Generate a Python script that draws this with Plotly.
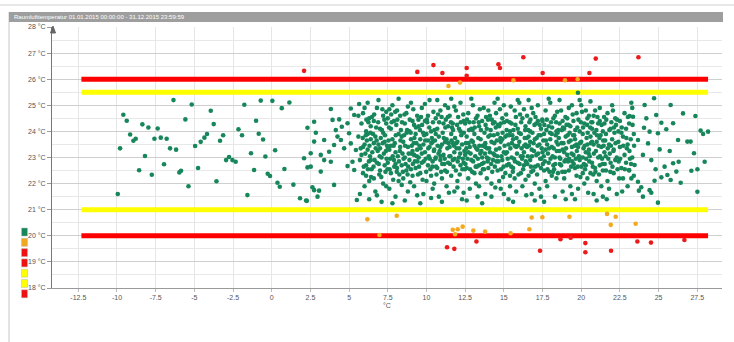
import plotly.graph_objects as go

# ---------------- data ----------------
title_text = "Raumlufttemperatur 01.01.2015 00:00:00 - 31.12.2015 23:59:59"

x_tick_vals = [-12.5, -10, -7.5, -5, -2.5, 0, 2.5, 5, 7.5, 10, 12.5, 15, 17.5, 20, 22.5, 25, 27.5]
x_tick_text = ["-12.5", "-10", "-7.5", "-5", "-2.5", "0", "2.5", "5", "7.5", "10", "12.5", "15",
               "17.5", "20", "22.5", "25", "27.5"]
y_tick_vals = [18, 19, 20, 21, 22, 23, 24, 25, 26, 27, 28]
y_tick_text = [f"{v} °C" for v in y_tick_vals]

limit_x = [-12.3, 28.2]
red_limits = [26.0, 20.0]
yellow_limits = [25.5, 21.0]

green_sparse_pts = [
    (-6.35, 25.20), (-5.17, 25.03), (-1.77, 25.02), (-0.71, 25.18), (0.04, 25.17), (1.14, 25.11),
    (0.65, 24.89), (-3.94, 24.79), (-9.59, 24.64), (-9.37, 24.41), (-5.58, 24.46), (-1.01, 24.41),
    (-3.75, 24.28), (-8.36, 24.27), (-7.97, 24.15), (-7.37, 24.11), (-9.15, 23.88), (-8.79, 23.72),
    (-8.94, 23.64), (-7.58, 23.72), (-7.17, 23.76), (-6.79, 23.72), (-4.18, 23.90), (-4.35, 23.76),
    (-3.14, 23.85), (-3.34, 23.64), (-2.15, 24.08), (-1.92, 23.85), (-0.84, 23.91), (-0.56, 23.69),
    (-4.59, 23.60), (-4.95, 23.44), (-9.80, 23.35), (-6.57, 23.35), (-6.18, 23.30), (0.22, 23.28),
    (-8.19, 23.06), (-1.34, 23.16), (-0.41, 23.04), (-2.76, 23.02), (-2.95, 22.90), (-2.54, 22.90),
    (-2.33, 22.84), (-6.96, 22.74), (-8.57, 22.51), (-7.75, 22.34), (-5.86, 22.49), (-5.97, 22.43),
    (-4.76, 22.60), (-1.14, 22.52), (0.82, 22.56), (-0.26, 22.38), (-0.11, 22.29), (-3.57, 22.09),
    (0.37, 22.03), (0.52, 21.88), (-5.38, 21.90), (-9.95, 21.60), (-1.57, 21.56), (1.40, 21.96),
    (1.83, 21.44), (2.22, 21.35),
    (3.82, 24.86), (2.74, 24.37), (2.31, 24.14), (2.85, 23.95), (2.74, 23.61), (3.39, 23.67),
    (3.93, 24.44), (4.36, 24.46), (4.14, 24.05), (4.90, 24.31), (5.00, 23.93), (4.47, 23.67),
    (4.68, 23.35), (4.03, 23.48), (3.71, 23.22), (3.17, 23.10), (3.39, 22.90), (2.52, 23.16),
    (2.31, 22.62), (2.52, 22.65), (3.17, 22.46), (3.82, 22.84), (5.22, 22.84), (5.33, 22.52),
    (4.90, 22.67), (2.63, 21.86), (2.74, 21.75), (3.06, 21.73), (2.96, 21.50), (4.03, 21.95),
    (2.27, 21.34), (5.50, 21.37), (5.11, 24.88), (5.33, 24.63), (5.65, 25.05), (2.09, 22.97),
    (4.53, 24.18), (4.25, 23.80), (5.11, 23.54), (5.44, 23.29),
]

green_dense_pts = [
    (5.6, 23.8), (5.7, 22.9), (5.8, 24.3), (5.8, 23.1), (5.9, 22.4), (5.9, 24.7), (6.0, 23.5), (6.0, 21.9),
    (6.1, 24.0), (6.1, 22.7), (6.2, 23.3), (6.2, 25.1), (6.3, 22.1), (6.3, 24.5), (6.4, 23.7), (6.4, 22.9),
    (5.7, 21.6), (5.9, 23.4), (6.0, 24.9), (6.2, 23.9), (6.3, 21.4), (6.4, 24.2), (6.1, 22.3), (5.6, 24.6),
    (6.35, 23.05), (5.95, 22.65), (6.15, 23.65), (6.45, 22.55), (5.75, 23.35), (6.25, 24.35),
    (6.5, 23.2), (6.6, 24.4), (6.6, 22.2), (6.7, 23.8), (6.7, 21.7), (6.8, 24.9), (6.8, 22.8), (6.9, 23.5),
    (6.9, 25.2), (7.0, 22.5), (7.0, 24.1), (7.1, 23.0), (7.1, 21.3), (7.2, 24.6), (7.2, 22.0), (7.3, 23.6),
    (7.3, 22.7), (7.4, 24.3), (7.4, 21.9), (6.55, 23.9), (6.65, 22.9), (6.75, 24.15), (6.85, 23.25),
    (6.95, 22.35), (7.05, 23.75), (7.15, 24.85), (7.25, 23.15), (7.35, 22.45), (7.45, 23.45), (6.6, 23.55),
    (7.0, 23.35), (7.2, 23.95), (6.8, 21.55), (7.4, 24.75),
    (7.5, 22.8), (7.5, 24.5), (7.6, 23.3), (7.6, 21.8), (7.7, 24.1), (7.7, 22.4), (7.8, 23.7), (7.8, 25.0),
    (7.9, 22.9), (7.9, 24.4), (8.0, 23.2), (8.0, 21.5), (8.1, 24.8), (8.1, 22.6), (8.2, 23.9), (8.2, 22.1),
    (8.3, 23.4), (8.3, 24.6), (8.4, 22.7), (8.4, 23.8), (7.55, 23.65), (7.65, 22.95), (7.75, 24.35),
    (7.85, 22.15), (7.95, 23.55), (8.05, 24.25), (8.15, 23.05), (8.25, 22.35), (8.35, 24.05), (8.45, 23.15),
    (7.7, 23.45), (8.0, 22.75), (8.2, 25.25), (7.8, 21.25), (8.4, 21.95), (7.6, 24.85),
    (8.5, 23.6), (8.5, 22.2), (8.6, 24.3), (8.6, 23.0), (8.7, 22.5), (8.7, 24.7), (8.8, 23.4), (8.8, 21.7),
    (8.9, 24.0), (8.9, 22.9), (9.0, 23.7), (9.0, 25.1), (9.1, 22.3), (9.1, 24.4), (9.2, 23.1), (9.2, 21.9),
    (9.3, 23.9), (9.3, 22.6), (9.4, 24.6), (9.4, 23.3), (8.55, 23.85), (8.65, 22.75), (8.75, 24.05),
    (8.85, 23.15), (8.95, 22.05), (9.05, 23.45), (9.15, 24.85), (9.25, 22.85), (9.35, 23.55), (9.45, 22.35),
    (8.6, 21.35), (9.0, 22.55), (9.2, 24.25), (8.8, 24.95), (9.4, 21.55), (9.1, 23.25),
    (9.5, 23.0), (9.5, 24.2), (9.6, 22.4), (9.6, 23.7), (9.7, 24.9), (9.7, 22.8), (9.8, 23.5), (9.8, 21.6),
    (9.9, 24.4), (9.9, 23.2), (10.0, 22.1), (10.0, 23.9), (10.1, 24.6), (10.1, 22.7), (10.2, 23.4),
    (10.2, 25.2), (10.3, 22.3), (10.3, 24.0), (10.4, 23.6), (10.4, 21.8), (9.55, 23.45), (9.65, 24.55),
    (9.75, 22.15), (9.85, 23.85), (9.95, 22.95), (10.05, 24.35), (10.15, 23.05), (10.25, 22.55),
    (10.35, 23.75), (10.45, 24.75), (9.6, 21.25), (9.9, 25.05), (10.1, 23.65), (10.3, 21.45), (9.7, 23.15),
    (10.4, 22.85),
    (10.5, 23.3), (10.5, 22.0), (10.6, 24.5), (10.6, 23.0), (10.7, 22.6), (10.7, 24.1), (10.8, 23.8),
    (10.8, 21.5), (10.9, 24.8), (10.9, 22.9), (11.0, 23.5), (11.0, 22.2), (11.1, 24.3), (11.1, 23.1),
    (11.2, 22.5), (11.2, 25.0), (11.3, 23.7), (11.3, 21.9), (11.4, 24.2), (11.4, 22.8), (10.55, 23.65),
    (10.65, 22.35), (10.75, 24.65), (10.85, 23.25), (10.95, 22.45), (11.05, 23.95), (11.15, 22.75),
    (11.25, 24.45), (11.35, 23.35), (11.45, 21.65), (10.7, 25.2), (11.0, 21.3), (11.2, 23.6), (10.9, 23.4),
    (11.4, 24.9), (10.6, 23.9),
    (11.5, 23.4), (11.5, 24.6), (11.6, 22.3), (11.6, 23.9), (11.7, 22.9), (11.7, 24.3), (11.8, 23.2),
    (11.8, 21.7), (11.9, 24.8), (11.9, 22.5), (12.0, 23.6), (12.0, 22.1), (12.1, 24.1), (12.1, 23.0),
    (12.2, 22.7), (12.2, 25.1), (12.3, 23.5), (12.3, 21.4), (12.4, 24.4), (12.4, 22.8), (11.55, 23.05),
    (11.65, 24.15), (11.75, 22.65), (11.85, 23.75), (11.95, 23.35), (12.05, 24.55), (12.15, 22.35),
    (12.25, 23.85), (12.35, 22.95), (12.45, 23.25), (11.6, 25.25), (12.0, 21.85), (12.2, 24.0),
    (11.8, 24.95), (12.4, 21.65), (11.7, 23.55),
    (12.5, 23.1), (12.5, 24.3), (12.6, 22.6), (12.6, 23.8), (12.7, 24.7), (12.7, 22.2), (12.8, 23.4),
    (12.8, 21.8), (12.9, 24.1), (12.9, 22.9), (13.0, 23.6), (13.0, 25.0), (13.1, 22.4), (13.1, 23.9),
    (13.2, 24.5), (13.2, 22.0), (13.3, 23.3), (13.3, 21.5), (13.4, 24.2), (13.4, 22.7), (12.55, 23.55),
    (12.65, 22.95), (12.75, 24.05), (12.85, 23.15), (12.95, 22.45), (13.05, 24.35), (13.15, 23.05),
    (13.25, 22.65), (13.35, 23.75), (13.45, 24.85), (12.6, 21.35), (12.9, 25.25), (13.1, 23.45),
    (13.3, 24.6), (12.7, 23.2), (13.4, 21.9),
    (13.5, 23.7), (13.5, 22.4), (13.6, 24.4), (13.6, 23.0), (13.7, 22.8), (13.7, 24.9), (13.8, 23.4),
    (13.8, 21.6), (13.9, 24.1), (13.9, 22.2), (14.0, 23.8), (14.0, 22.6), (14.1, 24.6), (14.1, 23.2),
    (14.2, 22.0), (14.2, 23.6), (14.3, 24.3), (14.3, 22.9), (14.4, 23.1), (14.4, 25.1), (13.55, 23.25),
    (13.65, 22.55), (13.75, 23.95), (13.85, 24.55), (13.95, 22.85), (14.05, 23.35), (14.15, 24.05),
    (14.25, 22.45), (14.35, 23.85), (14.45, 21.85), (13.6, 21.25), (14.0, 24.8), (14.2, 21.5),
    (13.8, 23.55), (14.4, 24.35), (13.9, 23.0),
    (14.5, 23.3), (14.5, 24.7), (14.6, 22.5), (14.6, 23.9), (14.7, 24.2), (14.7, 22.1), (14.8, 23.6),
    (14.8, 21.8), (14.9, 24.5), (14.9, 22.9), (15.0, 23.2), (15.0, 25.0), (15.1, 22.4), (15.1, 23.8),
    (15.2, 24.4), (15.2, 22.7), (15.3, 23.5), (15.3, 21.4), (15.4, 24.0), (15.4, 22.3), (14.55, 23.65),
    (14.65, 22.85), (14.75, 24.85), (14.85, 23.05), (14.95, 22.25), (15.05, 23.45), (15.15, 24.65),
    (15.25, 22.95), (15.35, 23.85), (15.45, 24.95), (14.6, 25.25), (15.0, 21.6), (15.2, 23.2),
    (14.8, 24.3), (15.4, 21.9), (14.9, 23.7),
    (15.5, 23.0), (15.5, 24.3), (15.6, 22.6), (15.6, 23.7), (15.7, 24.8), (15.7, 22.2), (15.8, 23.4),
    (15.8, 21.7), (15.9, 24.1), (15.9, 22.8), (16.0, 23.6), (16.0, 25.1), (16.1, 22.4), (16.1, 23.9),
    (16.2, 24.5), (16.2, 21.9), (16.3, 23.2), (16.3, 22.7), (16.4, 24.2), (16.4, 23.5), (15.55, 23.85),
    (15.65, 22.95), (15.75, 24.25), (15.85, 23.15), (15.95, 22.35), (16.05, 24.65), (16.15, 23.35),
    (16.25, 22.55), (16.35, 23.75), (16.45, 21.55), (15.6, 21.3), (15.9, 25.2), (16.1, 23.05),
    (16.3, 24.85), (15.7, 23.45), (16.4, 22.15),
    (16.5, 23.4), (16.5, 24.6), (16.6, 22.3), (16.6, 23.8), (16.7, 24.0), (16.7, 22.9), (16.8, 23.3),
    (16.8, 21.6), (16.9, 24.7), (16.9, 22.5), (17.0, 23.7), (17.0, 22.0), (17.1, 24.3), (17.1, 23.1),
    (17.2, 22.7), (17.2, 25.0), (17.3, 23.5), (17.3, 21.8), (17.4, 24.1), (17.4, 22.6), (16.55, 23.05),
    (16.65, 24.35), (16.75, 22.65), (16.85, 23.95), (16.95, 23.25), (17.05, 24.55), (17.15, 22.35),
    (17.25, 23.85), (17.35, 22.95), (17.45, 23.35), (16.6, 25.2), (17.0, 21.35), (17.2, 24.4),
    (16.8, 24.9), (17.4, 21.5), (16.7, 23.6),
    (17.5, 23.2), (17.5, 24.4), (17.6, 22.5), (17.6, 23.9), (17.7, 24.8), (17.7, 22.1), (17.8, 23.5),
    (17.8, 21.9), (17.9, 24.2), (17.9, 22.8), (18.0, 23.7), (18.0, 25.1), (18.1, 22.3), (18.1, 23.4),
    (18.2, 24.5), (18.2, 22.7), (18.3, 23.0), (18.3, 21.5), (18.4, 24.0), (18.4, 23.6), (17.55, 23.65),
    (17.65, 22.85), (17.75, 24.05), (17.85, 23.15), (17.95, 22.45), (18.05, 24.35), (18.15, 23.05),
    (18.25, 22.55), (18.35, 23.85), (18.45, 24.75), (17.6, 21.3), (17.9, 25.25), (18.1, 23.9),
    (18.3, 24.6), (17.7, 23.3), (18.4, 22.2),
    (18.5, 23.5), (18.5, 22.4), (18.6, 24.3), (18.6, 23.0), (18.7, 22.7), (18.7, 24.8), (18.8, 23.3),
    (18.8, 21.7), (18.9, 24.1), (18.9, 22.2), (19.0, 23.8), (19.0, 22.9), (19.1, 24.5), (19.1, 23.1),
    (19.2, 22.5), (19.2, 23.6), (19.3, 24.2), (19.3, 21.9), (19.4, 23.4), (19.4, 25.0), (18.55, 23.75),
    (18.65, 22.95), (18.75, 24.05), (18.85, 23.55), (18.95, 22.45), (19.05, 24.25), (19.15, 22.85),
    (19.25, 23.95), (19.35, 22.65), (19.45, 24.65), (18.6, 25.2), (19.0, 21.4), (19.2, 24.9),
    (18.8, 24.4), (19.4, 21.6), (18.9, 23.2),
    (19.5, 23.1), (19.5, 24.4), (19.6, 22.6), (19.6, 23.7), (19.7, 24.7), (19.7, 22.3), (19.8, 23.4),
    (19.8, 21.8), (19.9, 24.0), (19.9, 22.9), (20.0, 23.6), (20.0, 25.0), (20.1, 22.4), (20.1, 23.9),
    (20.2, 24.3), (20.2, 22.0), (20.3, 23.2), (20.3, 22.7), (20.4, 24.5), (20.4, 23.5), (19.55, 23.85),
    (19.65, 22.95), (19.75, 24.15), (19.85, 23.05), (19.95, 22.25), (20.05, 24.75), (20.15, 23.35),
    (20.25, 22.55), (20.35, 23.75), (20.45, 21.65), (19.6, 21.4), (19.9, 25.2), (20.1, 23.0),
    (20.3, 24.8), (19.7, 23.5), (20.4, 22.2),
    (20.5, 23.3), (20.5, 24.6), (20.6, 22.4), (20.6, 23.8), (20.7, 24.1), (20.7, 22.8), (20.8, 23.5),
    (20.8, 21.6), (20.9, 24.8), (20.9, 22.6), (21.0, 23.6), (21.0, 22.1), (21.1, 24.3), (21.1, 23.0),
    (21.2, 22.7), (21.2, 24.9), (21.3, 23.4), (21.3, 21.9), (21.4, 24.0), (21.4, 22.5), (20.55, 23.05),
    (20.65, 24.35), (20.75, 22.65), (20.85, 23.95), (20.95, 23.25), (21.05, 24.55), (21.15, 22.35),
    (21.25, 23.85), (21.35, 22.95), (21.45, 23.45), (20.6, 25.15), (21.0, 21.35), (21.2, 24.4),
    (20.8, 24.6), (21.4, 21.5), (20.7, 23.6),
    (21.5, 23.2), (21.5, 24.3), (21.6, 22.5), (21.6, 23.9), (21.7, 24.7), (21.7, 22.1), (21.8, 23.5),
    (21.8, 21.8), (21.9, 24.1), (21.9, 22.8), (22.0, 23.7), (22.0, 25.0), (22.1, 22.4), (22.1, 23.3),
    (22.2, 24.5), (22.2, 22.9), (22.3, 23.0), (22.3, 21.6), (22.4, 24.0), (22.4, 23.6), (21.55, 23.65),
    (21.75, 22.95), (21.95, 24.35), (22.15, 23.95), (22.35, 22.55), (21.65, 21.4), (22.05, 24.8),
    (22.45, 22.2), (21.85, 23.15), (22.25, 24.25),
    (22.5, 23.4), (22.5, 24.4), (22.6, 22.6), (22.7, 23.8), (22.7, 22.2), (22.8, 24.7), (22.8, 23.1),
    (22.9, 22.8), (22.9, 24.1), (23.0, 23.5), (23.0, 21.9), (23.1, 24.3), (23.1, 22.5), (23.2, 23.7),
    (23.3, 23.0), (23.3, 24.9), (23.4, 22.3), (22.6, 23.95), (22.95, 23.35), (23.15, 22.95),
    (22.65, 21.7), (23.4, 23.9),
]

green_core_pts = [
    (6.05, 23.15), (6.22, 22.55), (6.38, 23.95), (6.48, 24.55), (6.12, 24.45), (6.32, 23.45), (6.42, 22.25),
    (5.88, 23.75), (6.28, 22.85), (6.08, 23.85),
    (6.58, 22.65), (6.72, 23.35), (6.88, 24.35), (6.98, 23.05), (7.08, 22.25), (7.18, 23.55), (7.28, 24.45),
    (7.38, 23.25), (7.48, 22.55), (6.62, 24.65), (6.92, 22.75), (7.12, 24.05), (7.32, 23.85), (6.78, 23.65),
    (7.42, 22.95),
    (7.52, 23.35), (7.62, 22.55), (7.72, 24.65), (7.82, 23.05), (7.92, 22.65), (8.02, 23.85), (8.12, 24.45),
    (8.22, 22.85), (8.32, 23.65), (8.42, 24.35), (7.58, 24.15), (7.88, 23.45), (8.08, 22.45), (8.28, 23.25),
    (8.48, 22.45), (7.98, 24.75),
    (8.52, 22.95), (8.62, 23.45), (8.72, 23.95), (8.82, 22.65), (8.92, 24.45), (9.02, 23.15), (9.12, 22.75),
    (9.22, 23.75), (9.32, 24.15), (9.42, 22.85), (8.58, 24.65), (8.78, 22.35), (8.98, 23.95), (9.18, 23.55),
    (9.38, 23.05), (9.48, 24.45),
    (9.52, 22.65), (9.62, 23.35), (9.72, 24.25), (9.82, 22.85), (9.92, 23.65), (10.02, 24.45),
    (10.12, 23.35), (10.22, 22.95), (10.32, 23.55), (10.42, 24.35), (9.58, 24.05), (9.78, 23.95),
    (9.98, 22.45), (10.18, 24.15), (10.38, 22.65), (10.48, 23.25),
    (10.52, 24.05), (10.62, 22.65), (10.72, 23.45), (10.82, 24.35), (10.92, 23.05), (11.02, 22.75),
    (11.12, 23.75), (11.22, 24.15), (11.32, 22.45), (11.42, 23.55), (10.58, 22.95), (10.78, 23.15),
    (10.98, 24.55), (11.18, 22.95), (11.38, 24.55), (11.48, 23.05),
    (11.52, 22.75), (11.62, 23.65), (11.72, 24.05), (11.82, 22.95), (11.92, 23.55), (12.02, 22.85),
    (12.12, 23.35), (12.22, 24.35), (12.32, 22.55), (12.42, 23.95), (11.58, 24.35), (11.78, 23.45),
    (11.98, 24.25), (12.18, 23.15), (12.38, 24.65), (12.48, 22.55),
    (12.52, 22.75), (12.62, 24.45), (12.72, 23.55), (12.82, 22.55), (12.92, 23.65), (13.02, 22.85),
    (13.12, 24.15), (13.22, 23.35), (13.32, 22.95), (13.42, 23.45), (12.58, 23.35), (12.78, 24.35),
    (12.98, 24.05), (13.18, 22.65), (13.38, 24.35), (13.48, 23.15),
    (13.52, 24.05), (13.62, 23.45), (13.72, 22.55), (13.82, 24.25), (13.92, 23.35), (14.02, 22.95),
    (14.12, 23.85), (14.22, 24.45), (14.32, 23.15), (14.42, 22.65), (13.58, 22.75), (13.78, 23.15),
    (13.98, 24.45), (14.18, 22.75), (14.38, 23.55), (14.48, 24.15),
    (14.52, 22.85), (14.62, 24.25), (14.72, 23.35), (14.82, 22.55), (14.92, 23.95), (15.02, 24.35),
    (15.12, 23.15), (15.22, 23.85), (15.32, 22.75), (15.42, 23.35), (14.58, 23.05), (14.78, 23.75),
    (14.98, 22.65), (15.18, 24.05), (15.38, 24.35), (15.48, 22.65),
    (15.52, 23.55), (15.62, 24.05), (15.72, 22.85), (15.82, 23.75), (15.92, 23.45), (16.02, 22.75),
    (16.12, 24.35), (16.22, 23.05), (16.32, 23.45), (16.42, 22.85), (15.58, 22.45), (15.78, 24.55),
    (15.98, 23.95), (16.18, 22.95), (16.38, 24.05), (16.48, 23.75),
    (16.52, 22.75), (16.62, 23.45), (16.72, 24.45), (16.82, 23.05), (16.92, 23.55), (17.02, 22.65),
    (17.12, 23.75), (17.22, 23.15), (17.32, 24.25), (17.42, 22.95), (16.58, 24.05), (16.78, 22.45),
    (16.98, 24.25), (17.18, 23.45), (17.38, 23.85), (17.48, 24.45),
    (17.52, 22.75), (17.62, 24.25), (17.72, 23.65), (17.82, 22.55), (17.92, 23.35), (18.02, 22.95),
    (18.12, 24.15), (18.22, 23.35), (18.32, 22.75), (18.42, 23.25), (17.58, 23.05), (17.78, 24.45),
    (17.98, 23.95), (18.18, 22.45), (18.38, 24.35), (18.48, 23.95),
    (18.52, 24.05), (18.62, 22.75), (18.72, 23.55), (18.82, 24.15), (18.92, 22.85), (19.02, 23.35),
    (19.12, 23.85), (19.22, 22.95), (19.32, 23.65), (19.42, 22.85), (18.58, 23.25), (18.78, 22.45),
    (18.98, 24.55), (19.18, 24.25), (19.38, 23.15), (19.48, 23.85),
    (19.52, 22.75), (19.62, 24.05), (19.72, 23.25), (19.82, 24.45), (19.92, 23.55), (20.02, 22.65),
    (20.12, 24.15), (20.22, 23.45), (20.32, 22.95), (20.42, 23.95), (19.58, 23.45), (19.78, 22.65),
    (19.98, 24.35), (20.18, 22.75), (20.38, 24.25), (20.48, 23.15),
    (20.52, 22.85), (20.62, 23.55), (20.72, 24.35), (20.82, 23.15), (20.92, 22.45), (21.02, 23.85),
    (21.12, 23.45), (21.22, 23.05), (21.32, 24.25), (21.42, 23.65), (20.58, 24.15), (20.78, 22.35),
    (20.98, 24.05), (21.18, 23.75), (21.38, 22.75), (21.48, 24.55),
    (21.52, 22.75), (21.62, 24.45), (21.72, 23.35), (21.82, 24.05), (21.92, 23.45), (22.02, 22.65),
    (22.12, 24.15), (22.22, 23.55), (22.32, 24.45), (22.42, 22.85), (21.58, 23.05), (21.88, 22.45),
    (22.08, 23.25),
    (22.52, 22.95), (22.62, 24.15), (22.72, 23.45), (22.82, 22.55), (22.92, 23.75), (23.02, 24.55),
    (23.12, 23.25), (23.22, 22.75), (23.32, 24.25), (23.42, 23.45),
]

green_tail_pts = [
    (24.71, 25.27), (23.24, 25.10), (24.10, 25.01), (25.78, 25.01), (26.58, 24.69), (27.38, 24.59),
    (23.13, 24.59), (23.35, 24.56), (24.85, 24.63), (24.21, 24.50), (25.18, 24.33), (25.94, 24.31),
    (24.06, 24.14), (24.42, 23.99), (24.96, 23.93), (25.50, 24.08), (27.72, 24.03), (27.88, 23.90),
    (28.20, 23.99), (26.26, 23.67), (26.86, 23.61), (27.07, 23.61), (23.67, 23.67), (24.32, 23.54),
    (25.07, 23.31), (25.72, 23.25), (27.29, 23.16), (23.99, 23.10), (24.53, 22.90), (26.30, 22.84),
    (27.98, 22.84), (25.94, 22.78), (25.39, 22.65), (24.81, 22.55), (27.51, 22.55), (27.12, 22.49),
    (26.15, 22.46), (25.57, 22.33), (25.18, 22.24), (23.24, 22.20), (23.67, 22.07), (24.74, 22.11),
    (25.78, 22.14), (26.43, 22.03), (27.51, 21.69), (23.88, 21.86), (24.42, 21.75), (23.99, 21.50),
    (24.96, 21.27), (24.53, 21.65), (23.73, 21.73), (23.09, 22.52), (23.45, 22.71), (19.79, 25.48),
]

orange_pts = [
    (11.42, 25.74), (12.17, 25.87), (15.62, 25.96), (18.95, 25.96), (19.77, 26.00),
    (6.18, 20.63), (6.96, 20.03), (8.08, 20.77), (11.70, 20.23), (12.02, 20.25), (12.34, 20.35),
    (11.85, 20.06), (13.03, 20.20), (13.79, 20.16), (15.44, 20.10), (16.65, 20.25), (16.80, 20.70),
    (17.49, 20.71), (19.24, 20.73), (21.67, 20.84), (22.23, 20.73), (21.91, 20.42), (23.52, 20.46),
]

red_pts = [
    (2.09, 26.32), (9.41, 26.28), (10.45, 26.54), (11.03, 26.24), (12.60, 26.43), (12.60, 26.13),
    (14.65, 26.57), (14.75, 26.43), (16.26, 26.84), (17.51, 26.24), (20.53, 26.24), (20.94, 26.79),
    (23.70, 26.84),
    (11.33, 19.56), (11.80, 19.50), (13.23, 19.78), (17.34, 19.43), (18.66, 19.87), (19.32, 19.93),
    (20.27, 19.72), (20.27, 19.37), (21.93, 19.43), (23.63, 19.78), (24.51, 19.74), (26.67, 19.84),
]

legend_colors = ["#17875b", "#f0a820", "#ee1111", "#ee1111", "#ffff00", "#ffff00", "#ee1111"]

# ---------------- figure ----------------
GREEN = "#17875b"
ORANGE = "#f2a91e"
RED = "#ec1a1a"

fig = go.Figure()

for yv in yellow_limits:
    fig.add_trace(go.Scatter(x=limit_x, y=[yv, yv], mode="lines",
                             line=dict(color="#ffff00", width=5), hoverinfo="skip"))
for yv in red_limits:
    fig.add_trace(go.Scatter(x=limit_x, y=[yv, yv], mode="lines",
                             line=dict(color="#ff0000", width=5), hoverinfo="skip"))

g_all = green_sparse_pts + green_dense_pts + green_core_pts + green_tail_pts
fig.add_trace(go.Scatter(x=[p[0] for p in g_all], y=[p[1] for p in g_all], mode="markers",
                         marker=dict(color=GREEN, size=4.6, line=dict(width=0))))
fig.add_trace(go.Scatter(x=[p[0] for p in orange_pts], y=[p[1] for p in orange_pts], mode="markers",
                         marker=dict(color=ORANGE, size=4.6, line=dict(width=0))))
fig.add_trace(go.Scatter(x=[p[0] for p in red_pts], y=[p[1] for p in red_pts], mode="markers",
                         marker=dict(color=RED, size=4.6, line=dict(width=0))))

L, R, T, B = 52, 12, 27, 54
W, H = 734, 342
pw, ph = W - L - R, H - T - B


def px_x(px):
    return (px - L) / pw


def px_y(py):
    return (H - B - py) / ph


shapes = []
shapes.append(dict(type="line", xref="paper", yref="paper", x0=px_x(0), x1=px_x(734),
                   y0=px_y(5), y1=px_y(5), line=dict(color="#cfcfcf", width=1)))
shapes.append(dict(type="line", xref="paper", yref="paper", x0=px_x(9), x1=px_x(9),
                   y0=px_y(12), y1=px_y(342), line=dict(color="#c8c8c8", width=1)))
shapes.append(dict(type="rect", xref="paper", yref="paper", x0=px_x(9), x1=px_x(723),
                   y0=px_y(22), y1=px_y(12), fillcolor="#9e9e9e", line=dict(width=0)))
shapes.append(dict(type="path", xref="paper", yref="paper",
                   path=f"M {px_x(50.5)} {px_y(33)} L {px_x(53)} {px_y(26)} L {px_x(55.5)} {px_y(33)} Z",
                   fillcolor="#666666", line=dict(color="#666666", width=1)))
for i, c in enumerate(legend_colors):
    top = 228 + 10.3 * i
    shapes.append(dict(type="rect", xref="paper", yref="paper", x0=px_x(21.5), x1=px_x(27.5),
                       y0=px_y(top + 8), y1=px_y(top), fillcolor=c,
                       line=dict(color="#bbbbbb", width=0.5)))

annotations = [
    dict(text=title_text, xref="paper", yref="paper", x=px_x(12), y=px_y(17), xanchor="left",
         yanchor="middle", showarrow=False, font=dict(size=6, color="white", family="Liberation Sans")),
]

fig.update_layout(
    width=W, height=H, margin=dict(l=L, r=R, t=T, b=B),
    paper_bgcolor="white", plot_bgcolor="white", showlegend=False,
    font=dict(family="Liberation Sans", size=7, color="#555555"),
    shapes=shapes, annotations=annotations,
    xaxis=dict(range=[-14.2, 29.1], tickmode="array", tickvals=x_tick_vals, ticktext=x_tick_text,
               showgrid=True, gridcolor="#e6e6e6", gridwidth=1, zeroline=False,
               showline=True, linecolor="#9a9a9a", linewidth=1,
               ticks="outside", ticklen=3, tickcolor="#bbbbbb",
               tickfont=dict(size=7, color="#555555"),
               title=dict(text="°C", font=dict(size=7, color="#555555"), standoff=2)),
    yaxis=dict(range=[18, 28], tickmode="array", tickvals=y_tick_vals, ticktext=y_tick_text,
               showgrid=True, gridcolor="#cfcfcf", gridwidth=1, zeroline=False,
               showline=True, linecolor="#777777", linewidth=1,
               ticks="outside", ticklen=4, tickcolor="#999999",
               tickfont=dict(size=7, color="#555555"),
               minor=dict(tickvals=[v + 0.5 for v in y_tick_vals[:-1]], showgrid=True,
                          gridcolor="#e8e8e8", ticks="")),
)

fig.write_html("out.html", config={"displayModeBar": False},
               post_script="document.body.style.margin='0px';")
